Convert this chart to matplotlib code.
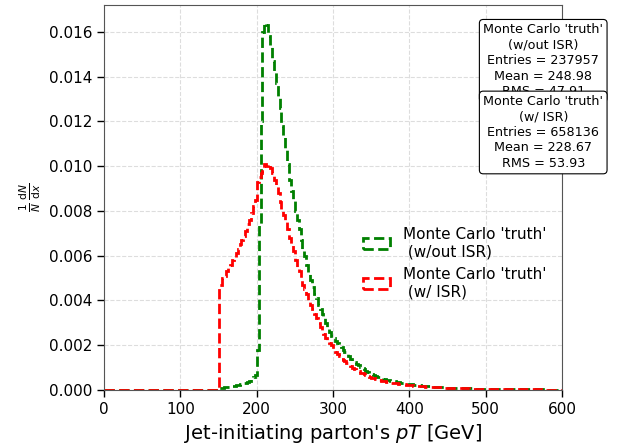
import numpy as np
import matplotlib
matplotlib.use('Agg')
import matplotlib.pyplot as plt

# 2.5 GeV bins over 0-600 GeV
bin_edges = np.arange(0, 602.5, 2.5)

# normalised parton pT spectra, bins from 150 GeV upwards (below is empty)
pt_noisr_tail = [
    0.00009, 0.00010, 0.00011, 0.00012, 0.00013, 0.00014, 0.00016, 0.00018, 0.00019, 0.00021,
    0.00023, 0.00025, 0.00027, 0.00029, 0.00032, 0.00036, 0.00041, 0.00048, 0.00056, 0.00066,
    0.0018, 0.0074, 0.0120, 0.0160, 0.0164, 0.0163, 0.0158, 0.0154, 0.0147, 0.0142,
    0.0137, 0.0131, 0.0126, 0.0118, 0.0113, 0.0108, 0.0101, 0.0094, 0.0089, 0.0085,
    0.0080, 0.0076, 0.0072, 0.0067, 0.0063, 0.0060, 0.0056, 0.0052, 0.0049, 0.0046,
    0.0043, 0.0041, 0.0038, 0.0036, 0.0034, 0.0032, 0.0030, 0.0028, 0.0026, 0.0024,
    0.0023, 0.0022, 0.0021, 0.0020, 0.0019, 0.0018, 0.0017, 0.0016, 0.0015, 0.0014,
    0.0013, 0.00125, 0.00118, 0.00111, 0.00104, 0.00098, 0.00092, 0.00086, 0.00081, 0.00076,
    0.00072, 0.00068, 0.00064, 0.00060, 0.00057, 0.00054, 0.00051, 0.00048, 0.00046, 0.00044,
    0.00042, 0.00040, 0.00038, 0.00036, 0.00035, 0.00033, 0.00032, 0.00030, 0.00029, 0.00028,
    0.00026, 0.00025, 0.00024, 0.00023, 0.00022, 0.00021, 0.00020, 0.00019, 0.00018, 0.00017,
    0.00016, 0.000155, 0.00015, 0.00014, 0.000135, 0.00013, 0.000125, 0.00012, 0.000115, 0.00011,
    0.000105, 0.00010, 0.000097, 0.000094, 0.000091, 0.000088, 0.000085, 0.000082, 0.000079, 0.000076,
    0.000073, 0.000070, 0.000068, 0.000066, 0.000064, 0.000062, 0.000060, 0.000058, 0.000056, 0.000054,
    0.000052, 0.000050, 0.000049, 0.000047, 0.000046, 0.000044, 0.000043, 0.000041, 0.000040, 0.000039,
    0.000038, 0.000037, 0.000036, 0.000035, 0.000034, 0.000033, 0.000032, 0.000031, 0.000030, 0.000029,
    0.000028, 0.000027, 0.000027, 0.000026, 0.000025, 0.000025, 0.000024, 0.000023, 0.000023, 0.000022,
    0.000022, 0.000021, 0.000021, 0.000020, 0.000020, 0.000019, 0.000019, 0.000018, 0.000018, 0.000017,
]
pt_isr_tail = [
    0.0047, 0.0047, 0.0050, 0.0051, 0.0053, 0.0055, 0.0056, 0.0058, 0.0059, 0.0061,
    0.0063, 0.0065, 0.0067, 0.0069, 0.0071, 0.0074, 0.0076, 0.0079, 0.0082, 0.0085,
    0.0093, 0.0095, 0.0097, 0.0098, 0.0101, 0.0100, 0.0101, 0.0099, 0.0097, 0.0094,
    0.0091, 0.0088, 0.0084, 0.0081, 0.0078, 0.0075, 0.0072, 0.0068, 0.0065, 0.0062,
    0.0058, 0.0055, 0.0053, 0.0050, 0.0047, 0.0045, 0.0043, 0.0040, 0.0038, 0.0036,
    0.0034, 0.0032, 0.0030, 0.0028, 0.0026, 0.0025, 0.0023, 0.0022, 0.0021, 0.0020,
    0.0018, 0.0017, 0.0016, 0.0015, 0.0014, 0.00135, 0.00128, 0.0012, 0.00113, 0.00106,
    0.0010, 0.00094, 0.00088, 0.00083, 0.00078, 0.00074, 0.00070, 0.00066, 0.00062, 0.00058,
    0.00055, 0.00052, 0.00049, 0.00046, 0.00044, 0.00042, 0.00040, 0.00038, 0.00036, 0.00035,
    0.00033, 0.00032, 0.00030, 0.00029, 0.00028, 0.00027, 0.00026, 0.00025, 0.00024, 0.00023,
    0.00022, 0.00021, 0.00020, 0.00019, 0.00018, 0.000175, 0.00017, 0.00016, 0.000155, 0.00015,
    0.000145, 0.00014, 0.000135, 0.00013, 0.000125, 0.00012, 0.000115, 0.00011, 0.000105, 0.00010,
    0.000097, 0.000094, 0.000091, 0.000088, 0.000085, 0.000082, 0.000079, 0.000076, 0.000073, 0.000070,
    0.000068, 0.000066, 0.000064, 0.000062, 0.000060, 0.000058, 0.000056, 0.000054, 0.000052, 0.000050,
    0.000049, 0.000047, 0.000046, 0.000044, 0.000043, 0.000041, 0.000040, 0.000039, 0.000038, 0.000037,
    0.000036, 0.000035, 0.000034, 0.000033, 0.000032, 0.000031, 0.000030, 0.000029, 0.000028, 0.000027,
    0.000027, 0.000026, 0.000025, 0.000025, 0.000024, 0.000023, 0.000023, 0.000022, 0.000022, 0.000021,
    0.000021, 0.000020, 0.000020, 0.000019, 0.000019, 0.000018, 0.000018, 0.000017, 0.000017, 0.000016,
]
pt_noisr = [0.0] * 60 + pt_noisr_tail
pt_isr = [0.0] * 60 + pt_isr_tail

labels = ["Monte Carlo 'truth'\n (w/out ISR)", "Monte Carlo 'truth'\n (w/ ISR)"]
stats = [
    "Monte Carlo 'truth'\n(w/out ISR)\nEntries = 237957\nMean = 248.98\nRMS = 47.91",
    "Monte Carlo 'truth'\n(w/ ISR)\nEntries = 658136\nMean = 228.67\nRMS = 53.93",
]

fig = plt.figure(figsize=(6.28, 4.48), dpi=100)
ax = fig.add_axes([0.1656, 0.1295, 0.7294, 0.8595])

centers = bin_edges[:-1] + 1.25
ax.hist(centers, bins=bin_edges, weights=pt_noisr, histtype='step',
        color='green', linestyle='--', linewidth=2, label=labels[0])
ax.hist(centers, bins=bin_edges, weights=pt_isr, histtype='step',
        color='red', linestyle='--', linewidth=2, label=labels[1])

ax.set_xlim(0, 600)
ax.set_ylim(0, 0.0172)
ax.set_xticks(np.arange(0, 700, 100))
ax.set_yticks(np.arange(0, 0.0161, 0.002))
ax.tick_params(labelsize=11, length=5, width=1)
ax.grid(True, linestyle='--', color='#dddddd', linewidth=0.8)
ax.set_axisbelow(True)
for s in ax.spines.values():
    s.set_color('#555555')

ax.set_xlabel(r"Jet-initiating parton's $pT$ [GeV]", fontsize=14)
ax.set_ylabel(r"$\frac{1}{N}\,\frac{\mathrm{d}N}{\mathrm{d}x}$", fontsize=11)

ax.legend(loc='center left', bbox_to_anchor=(0.535, 0.33), frameon=False,
          fontsize=11, handlelength=1.8)

box = dict(boxstyle='round,pad=0.3', facecolor='white', edgecolor='black', linewidth=0.8)
fig.text(0.865, 0.948, stats[0], ha='center', va='top', fontsize=9.2,
         linespacing=1.25, bbox=box)
fig.text(0.865, 0.788, stats[1], ha='center', va='top', fontsize=9.2,
         linespacing=1.25, bbox=box)

fig.savefig('out.png', dpi=100)
